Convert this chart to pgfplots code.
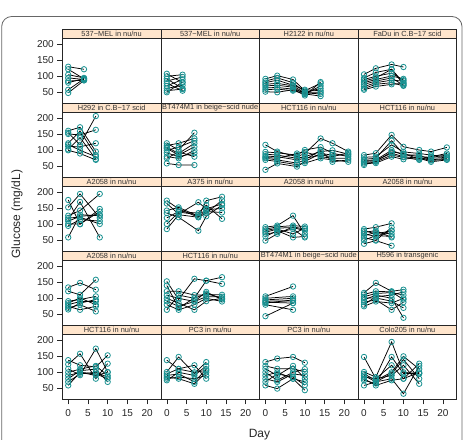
\documentclass[border=0pt]{standalone}
\usepackage{fontspec}
\setmainfont{Liberation Sans}
\usepackage{pgfplots}
\pgfplotsset{compat=1.18}

\definecolor{stripfill}{HTML}{FFE5CC}
\definecolor{markcol}{RGB}{25,145,145}

\pgfplotsset{
  panel/.style={
    scale only axis, width=98.6pt, height=65pt,
    xmin=-1.5, xmax=23.5, ymin=15.6, ymax=218.8,
    anchor=south west,
    axis line style={draw=black!85, line width=0.7pt},
    xtick=\empty, ytick=\empty,
    tick align=outside, tick pos=left,
    major tick length=5pt,
    tick style={black!85, line width=0.6pt},
    /pgf/number format/assume math mode=true,
    ticklabel style={font=\fontsize{10}{12}\selectfont, text=black!85},
    title style={at={(0.5,1)}, anchor=south, yshift=-6pt, fill=stripfill, draw=black!85,
      line width=0.7pt, minimum width=98.6pt, minimum height=9pt,
      inner sep=0pt, font=\fontsize{7.4}{8}\selectfont, text=black!80},
  },
  leftcol/.style={ytick={50,100,150,200}},
  botrow/.style={xtick={0,5,10,15,20}, xticklabel style={yshift=-2pt}},
  subj/.style={black, line width=0.75pt, mark=o, mark size=2.7pt,
    mark options={draw=markcol, line width=0.8pt}},
}
\newcommand{\subj}[1]{\addplot[subj] coordinates {#1};}

\begin{document}
\begin{tikzpicture}
\path[use as bounding box] (0,0) rectangle (467pt,440pt);
\draw[draw=black!60, line width=0.8pt, rounded corners=10pt]
  (1.7pt,423.5pt) rectangle (462pt,-20pt);

% ---------------- row 1 ----------------
\begin{axis}[panel, leftcol, at={(62.3pt,336.7pt)}, title={537−MEL in nu/nu}]
\subj{(0,130)(4,122)}
\subj{(0,122)(4,92)}
\subj{(0,105)(4,95)}
\subj{(0,95)(4,90)}
\subj{(0,85)(4,88)}
\subj{(0,80)(4,93)}
\subj{(0,58)(4,92)}
\subj{(0,48)(4,87)}
\end{axis}
\begin{axis}[panel, at={(160.9pt,336.7pt)}, title={537−MEL in nu/nu}]
\subj{(0,108)(4,80)}
\subj{(0,100)(4,105)}
\subj{(0,92)(4,62)}
\subj{(0,85)(4,98)}
\subj{(0,78)(4,55)}
\subj{(0,70)(4,90)}
\subj{(0,62)(4,72)}
\subj{(0,55)(4,60)}
\subj{(0,50)(4,82)}
\end{axis}
\begin{axis}[panel, at={(259.5pt,336.7pt)}, title={H2122 in nu/nu}]
\subj{(0,92)(3,102)(7,90)(10,55)(14,78)}
\subj{(0,85)(3,95)(7,80)(10,50)(14,62)}
\subj{(0,80)(3,88)(7,72)(10,58)(14,55)}
\subj{(0,75)(3,78)(7,70)(10,48)(14,45)}
\subj{(0,70)(3,72)(7,66)(10,44)(14,70)}
\subj{(0,64)(3,65)(7,60)(10,40)(14,82)}
\subj{(0,58)(3,60)(7,55)(10,45)(14,38)}
\subj{(0,52)(3,50)(7,58)(10,50)(14,50)}
\end{axis}
\begin{axis}[panel, at={(358.1pt,336.7pt)}, title={FaDu in C.B−17 scid}]
\subj{(0,106)(3,125)(7,137)(10,129)}
\subj{(0,95)(3,112)(7,122)(10,80)}
\subj{(0,90)(3,100)(7,110)(10,88)}
\subj{(0,85)(3,95)(7,122)(10,75)}
\subj{(0,80)(3,90)(7,101)(10,92)}
\subj{(0,75)(3,85)(7,95)(10,72)}
\subj{(0,68)(3,80)(7,88)(10,85)}
\subj{(0,62)(3,75)(7,80)(10,70)}
\subj{(0,58)(3,68)(7,75)(10,78)}
\end{axis}

% ---------------- row 2 ----------------
\begin{axis}[panel, leftcol, at={(62.3pt,262.7pt)}, title={H292 in C.B−17 scid}]
\subj{(0,161)(3,172)(7,96)}
\subj{(0,151)(3,148)(7,164)}
\subj{(0,155)(3,117)(7,207)}
\subj{(0,122)(3,160)(7,85)}
\subj{(0,112)(3,111)(7,122)}
\subj{(0,103)(3,140)(7,72)}
\subj{(0,118)(3,100)(7,80)}
\subj{(0,100)(3,90)(7,70)}
\end{axis}
\begin{axis}[panel, at={(160.9pt,262.7pt)}, title={BT474M1 in beige−scid nude}]
\subj{(0,122)(3,101)(7,155)}
\subj{(0,115)(3,122)(7,137)}
\subj{(0,110)(3,90)(7,122)}
\subj{(0,106)(3,85)(7,111)}
\subj{(0,100)(3,110)(7,130)}
\subj{(0,92)(3,80)(7,91)}
\subj{(0,80)(3,75)(7,100)}
\subj{(0,75)(3,95)(7,80)}
\subj{(0,59)(3,54)(7,54)}
\end{axis}
\begin{axis}[panel, at={(259.5pt,262.7pt)}, title={HCT116 in nu/nu}]
\subj{(0,117)(3,96)(8,80)(10,90)(14,137)(17,122)(21,96)}
\subj{(0,95)(3,92)(8,85)(10,101)(14,110)(17,91)(21,80)}
\subj{(0,88)(3,85)(8,75)(10,80)(14,96)(17,100)(21,88)}
\subj{(0,82)(3,80)(8,70)(10,75)(14,85)(17,80)(21,92)}
\subj{(0,78)(3,75)(8,90)(10,95)(14,80)(17,75)(21,75)}
\subj{(0,75)(3,70)(8,60)(10,70)(14,100)(17,64)(21,70)}
\subj{(0,70)(3,65)(8,55)(10,60)(14,75)(17,70)(21,64)}
\subj{(0,39)(3,59)(8,49)(10,65)(14,90)(17,85)(21,85)}
\end{axis}
\begin{axis}[panel, at={(358.1pt,262.7pt)}, title={HCT116 in nu/nu}]
\subj{(0,85)(3,91)(7,148)(10,111)(14,101)(17,96)(21,109)}
\subj{(0,78)(3,80)(7,117)(10,95)(14,90)(17,85)(21,80)}
\subj{(0,72)(3,75)(7,130)(10,88)(14,80)(17,78)(21,85)}
\subj{(0,68)(3,70)(7,100)(10,85)(14,85)(17,70)(21,75)}
\subj{(0,65)(3,68)(7,91)(10,80)(14,75)(17,64)(21,70)}
\subj{(0,62)(3,64)(7,85)(10,78)(14,70)(17,75)(21,78)}
\subj{(0,58)(3,60)(7,80)(10,72)(14,78)(17,68)(21,72)}
\subj{(0,54)(3,66)(7,95)(10,90)(14,72)(17,80)(21,90)}
\end{axis}

% ---------------- row 3 ----------------
\begin{axis}[panel, leftcol, at={(62.3pt,188.7pt)}, title={A2058 in nu/nu}]
\subj{(0,176)(3,100)(8,148)}
\subj{(0,153)(3,195)(8,120)}
\subj{(0,127)(3,143)(8,195)}
\subj{(0,120)(3,122)(8,101)}
\subj{(0,115)(3,170)(8,59)}
\subj{(0,110)(3,125)(8,130)}
\subj{(0,101)(3,101)(8,140)}
\subj{(0,95)(3,115)(8,110)}
\subj{(0,59)(3,130)(8,127)}
\end{axis}
\begin{axis}[panel, at={(160.9pt,188.7pt)}, title={A375 in nu/nu}]
\subj{(0,174)(3,148)(8,122)(10,174)(14,186)}
\subj{(0,165)(3,132)(8,169)(10,148)(14,164)}
\subj{(0,143)(3,153)(8,125)(10,140)(14,137)}
\subj{(0,135)(3,122)(8,80)(10,125)(14,160)}
\subj{(0,120)(3,140)(8,135)(10,160)(14,117)}
\subj{(0,101)(3,138)(8,130)(10,145)(14,150)}
\subj{(0,85)(3,130)(8,122)(10,135)(14,175)}
\end{axis}
\begin{axis}[panel, at={(259.5pt,188.7pt)}, title={A2058 in nu/nu}]
\subj{(0,91)(3,96)(7,127)(10,70)}
\subj{(0,85)(3,92)(7,96)(10,93)}
\subj{(0,80)(3,88)(7,90)(10,80)}
\subj{(0,75)(3,85)(7,70)(10,88)}
\subj{(0,70)(3,75)(7,85)(10,59)}
\subj{(0,62)(3,80)(7,59)(10,62)}
\subj{(0,49)(3,70)(7,92)(10,85)}
\end{axis}
\begin{axis}[panel, at={(358.1pt,188.7pt)}, title={A2058 in nu/nu}]
\subj{(0,85)(3,91)(7,103)}
\subj{(0,80)(3,70)(7,80)}
\subj{(0,75)(3,80)(7,59)}
\subj{(0,70)(3,62)(7,80)}
\subj{(0,64)(3,75)(7,70)}
\subj{(0,58)(3,50)(7,90)}
\subj{(0,50)(3,65)(7,62)}
\subj{(0,39)(3,49)(7,33)}
\end{axis}

% ---------------- row 4 ----------------
\begin{axis}[panel, leftcol, at={(62.3pt,114.7pt)}, title={A2058 in nu/nu}]
\subj{(0,134)(3,148)(7,127)}
\subj{(0,122)(3,111)(7,158)}
\subj{(0,91)(3,96)(7,106)}
\subj{(0,85)(3,101)(7,80)}
\subj{(0,80)(3,90)(7,90)}
\subj{(0,75)(3,64)(7,75)}
\subj{(0,70)(3,80)(7,59)}
\subj{(0,65)(3,85)(7,96)}
\end{axis}
\begin{axis}[panel, at={(160.9pt,114.7pt)}, title={HCT116 in nu/nu}]
\subj{(0,153)(3,96)(7,161)(10,155)(14,166)}
\subj{(0,140)(3,70)(7,101)(10,155)(14,145)}
\subj{(0,122)(3,122)(7,110)(10,111)(14,111)}
\subj{(0,110)(3,100)(7,90)(10,120)(14,96)}
\subj{(0,100)(3,85)(7,64)(10,91)(14,100)}
\subj{(0,91)(3,75)(7,90)(10,105)(14,105)}
\subj{(0,80)(3,64)(7,80)(10,100)(14,90)}
\subj{(0,64)(3,110)(7,100)(10,115)(14,100)}
\end{axis}
\begin{axis}[panel, at={(259.5pt,114.7pt)}, title={BT474M1 in beige−scid nude}]
\subj{(0,106)(7,137)}
\subj{(0,100)(7,106)}
\subj{(0,95)(7,100)}
\subj{(0,91)(7,92)}
\subj{(0,88)(7,85)}
\subj{(0,85)(7,95)}
\subj{(0,80)(7,64)}
\subj{(0,44)(7,85)}
\end{axis}
\begin{axis}[panel, at={(358.1pt,114.7pt)}, title={H596 in transgenic}]
\subj{(0,117)(3,148)(7,122)(10,127)}
\subj{(0,112)(3,122)(7,120)(10,96)}
\subj{(0,105)(3,115)(7,118)(10,110)}
\subj{(0,101)(3,101)(7,91)(10,70)}
\subj{(0,95)(3,110)(7,100)(10,39)}
\subj{(0,88)(3,95)(7,64)(10,88)}
\subj{(0,80)(3,105)(7,110)(10,120)}
\subj{(0,75)(3,90)(7,85)(10,100)}
\end{axis}

% ---------------- row 5 ----------------
\begin{axis}[panel, leftcol, botrow, at={(62.3pt,40.7pt)}, title={HCT116 in nu/nu}]
\subj{(0,138)(3,122)(7,117)(10,153)}
\subj{(0,125)(3,158)(7,80)(10,127)}
\subj{(0,111)(3,91)(7,174)(10,101)}
\subj{(0,100)(3,110)(7,120)(10,90)}
\subj{(0,90)(3,100)(7,95)(10,80)}
\subj{(0,80)(3,105)(7,110)(10,70)}
\subj{(0,59)(3,100)(7,90)(10,100)}
\subj{(0,70)(3,95)(7,100)(10,85)}
\end{axis}
\begin{axis}[panel, botrow, at={(160.9pt,40.7pt)}, title={PC3 in nu/nu}]
\subj{(0,138)(3,110)(7,100)(10,106)}
\subj{(0,101)(3,148)(7,96)(10,132)}
\subj{(0,95)(3,111)(7,122)(10,80)}
\subj{(0,90)(3,95)(7,70)(10,110)}
\subj{(0,85)(3,80)(7,64)(10,100)}
\subj{(0,80)(3,85)(7,80)(10,90)}
\subj{(0,75)(3,100)(7,90)(10,120)}
\end{axis}
\begin{axis}[panel, botrow, at={(259.5pt,40.7pt)}, title={PC3 in nu/nu}]
\subj{(0,132)(3,143)(7,148)(10,130)}
\subj{(0,120)(3,111)(7,111)(10,101)}
\subj{(0,111)(3,90)(7,120)(10,80)}
\subj{(0,100)(3,75)(7,100)(10,110)}
\subj{(0,90)(3,100)(7,80)(10,70)}
\subj{(0,80)(3,70)(7,95)(10,90)}
\subj{(0,70)(3,95)(7,85)(10,60)}
\subj{(0,59)(3,49)(7,80)(10,44)}
\end{axis}
\begin{axis}[panel, botrow, at={(358.1pt,40.7pt)}, title={Colo205 in nu/nu}]
\subj{(0,148)(3,80)(7,122)(10,80)(14,127)}
\subj{(0,101)(3,85)(7,195)(10,100)(14,96)}
\subj{(0,95)(3,75)(7,100)(10,150)(14,110)}
\subj{(0,90)(3,70)(7,80)(10,33)(14,120)}
\subj{(0,85)(3,80)(7,90)(10,122)(14,64)}
\subj{(0,80)(3,59)(7,75)(10,80)(14,100)}
\subj{(0,75)(3,65)(7,148)(10,96)(14,96)}
\subj{(0,59)(3,70)(7,96)(10,140)(14,80)}
\end{axis}

% axis titles
\node[rotate=90, font=\fontsize{12}{14}\selectfont, text=black!85] at (17pt,226pt) {Glucose (mg/dL)};
\node[font=\fontsize{12}{14}\selectfont, text=black!85] at (259.5pt,5.5pt) {Day};
\end{tikzpicture}
\end{document}
